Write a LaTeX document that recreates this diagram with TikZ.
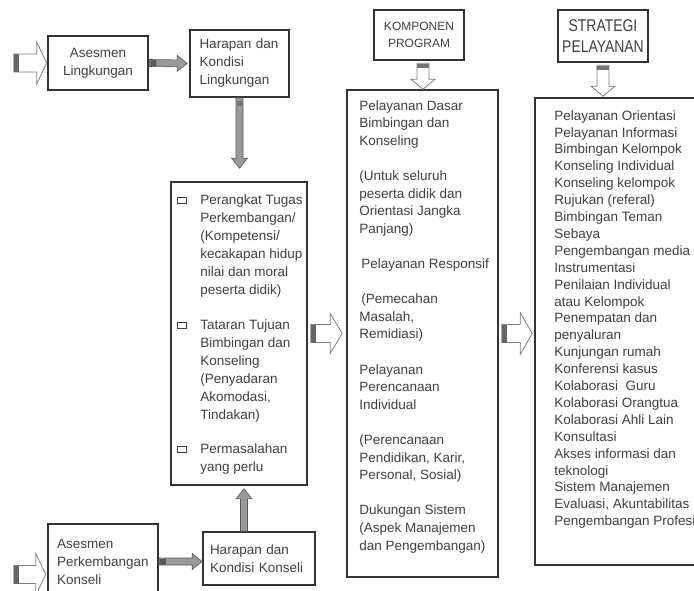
\documentclass[tikz,border=0pt]{standalone}
\usepackage{fontspec}
\setmainfont{Liberation Sans}
\newfontfamily\narrowsans[FakeStretch=0.82]{Liberation Sans}
\usetikzlibrary{calc,positioning}
\newcommand{\bul}{{\setlength{\fboxsep}{0pt}\setlength{\fboxrule}{0.6pt}\raisebox{1.5pt}{\fbox{\rule{0pt}{5pt}\rule{8pt}{0pt}}}}}
\newcommand{\ind}{\hspace*{23pt}}

\tikzset{
  blockarrow/.style n args={3}{to path={
      (\tikztotarget) coordinate (tip)
      ($(tip)!#3!(\tikztostart)$) coordinate (hb)
      ($(\tikztostart)!#1!90:(tip)$) -- ($(hb)!#1!90:(tip)$) -- ($(hb)!#2!90:(tip)$) -- (tip)
      -- ($(hb)!#2!-90:(tip)$) -- ($(hb)!#1!-90:(tip)$) -- ($(\tikztostart)!#1!-90:(tip)$) -- cycle}},
  tailbar/.style n args={2}{to path={
      ($(\tikztostart)!#2!(\tikztotarget)$) coordinate (tb)
      ($(tb)!#1!90:(\tikztotarget)$) -- ($(tb)!#1!-90:(\tikztotarget)$)}},
  openarrow/.style n args={3}{blockarrow={#1}{#2}{#3}, draw=black!50, fill=white, line width=0.8pt},
  grayarrow/.style={blockarrow={3.5pt}{8pt}{10pt}, draw=black!65, fill=black!40, line width=0.6pt},
  box/.style={draw=black!80, line width=1.6pt, fill=white, text=black!75},
  thickbox/.style={box, line width=2.6pt},
  txt/.style={align=left, inner sep=0pt, anchor=north west, text=black!75}
}

\begin{document}
\begin{tikzpicture}[x=1pt,y=-1pt,font=\fontsize{13.5}{18}\selectfont]
  \useasboundingbox (0,0) rectangle (694,590);
  \clip (0,0) rectangle (694,590);

  % left column
  \node[thickbox, minimum width=100, minimum height=54, align=center] (asesL) at (98,63) {Asesmen\\Lingkungan};
  \node[box, minimum width=99, minimum height=67, text width=80, inner xsep=9.5, align=left] (harL) at (239.5,63.5) {Harapan dan\\Kondisi\\Lingkungan};
  \node[box, minimum width=136, minimum height=303] (perangkat) at (239,333.5) {};
  \node[box, minimum width=112, minimum height=53, text width=98, inner xsep=7, align=left] (harK) at (259,558.5) {Harapan dan\\Kondisi Konseli};
  \node[thickbox, minimum width=110, minimum height=75, text width=92, inner xsep=9, align=left] (asesK) at (103,561.5) {Asesmen\\Perkembangan\\Konseli};

  \node[txt] (perangkatText) at ($(perangkat.north west)+(7,13)$) {%
    \makebox[23pt][l]{\bul}Perangkat Tugas\\
    \ind Perkembangan/\\
    \ind (Kompetensi/\\
    \ind kecakapan hidup\\
    \ind nilai dan moral\\
    \ind peserta didik)\\[17pt]
    \makebox[23pt][l]{\bul}Tataran Tujuan\\
    \ind Bimbingan dan\\
    \ind Konseling\\
    \ind (Penyadaran\\
    \ind Akomodasi,\\
    \ind Tindakan)\\[16pt]
    \makebox[23pt][l]{\bul}Permasalahan\\
    \ind yang perlu};

  % komponen program
  \node[thickbox, minimum width=90, minimum height=50, align=center, font=\fontsize{12}{17}\selectfont] (kompHead) at (419,35) {KOMPONEN\\PROGRAM};
  \node[box, minimum width=151, minimum height=487] (komponen) at (422.5,333.5) {};
  \node[txt, font=\fontsize{13.5}{17.6}\selectfont] (komponenText) at ($(komponen.north west)+(13,11)$) {%
    Pelayanan Dasar\\
    Bimbingan dan\\
    Konseling\\[17.6pt]
    (Untuk seluruh\\
    peserta didik dan\\
    Orientasi Jangka\\
    Panjang)\\[17.6pt]
    \hspace*{2pt}Pelayanan Responsif\\[17.6pt]
    \hspace*{2pt}(Pemecahan\\
    Masalah,\\
    Remidiasi)\\[17.6pt]
    Pelayanan\\
    Perencanaan\\
    Individual\\[17.6pt]
    (Perencanaan\\
    Pendidikan, Karir,\\
    Personal, Sosial)\\[17.6pt]
    Dukungan Sistem\\
    (Aspek Manajemen\\
    dan Pengembangan)};

  % strategi pelayanan
  \node[thickbox, minimum width=90, minimum height=52, align=center, font=\narrowsans\fontsize{17}{21}\selectfont] (stratHead) at (603,36) {STRATEGI\\PELAYANAN};
  \node[box, minimum width=185, minimum height=467] (strategi) at (627.5,331.5) {};
  \node[txt, font=\fontsize{13.5}{16.9}\selectfont] (strategiText) at ($(strategi.north west)+(20,13)$) {%
    Pelayanan Orientasi\\
    Pelayanan Informasi\\
    Bimbingan Kelompok\\
    Konseling Individual\\
    Konseling kelompok\\
    Rujukan (referal)\\
    Bimbingan Teman\\
    Sebaya\\
    Pengembangan media\\
    Instrumentasi\\
    Penilaian Individual\\
    atau Kelompok\\
    Penempatan dan\\
    penyaluran\\
    Kunjungan rumah\\
    Konferensi kasus\\
    Kolaborasi\ \ Guru\\
    Kolaborasi Orangtua\\
    Kolaborasi Ahli Lain\\
    Konsultasi\\
    Akses informasi dan\\
    teknologi\\
    Sistem Manajemen\\
    Evaluasi, Akuntabilitas\\
    Pengembangan Profesi};

  % arrow ends
  \coordinate (inL) at ($(asesL.west)+(-33,0)$);
  \coordinate (inKtip) at ($(asesK.west)+(-1,13)$);
  \coordinate (inK) at ($(inKtip)+(-32,0)$);
  \coordinate (harLtip) at ($(harL.west)+(-2,0)$);
  \coordinate (perTop) at ($(harL.south |- perangkat.north)+(0,-13)$);
  \coordinate (harKtip) at (asesK.east -| harK.west);
  \coordinate (harKout) at ($(harK.north)+(-15,0)$);
  \coordinate (perBot) at ($(harKout |- perangkat.south)+(0,3)$);
  \coordinate (perOut) at ($(perangkat.east)+(3,0)$);
  \coordinate (kompIn) at ($(komponen.west)+(-4,0)$);
  \coordinate (kompOut) at ($(komponen.east)+(3,0)$);
  \coordinate (stratIn) at ($(kompOut -| strategi.west)+(-2,0)$);
  \coordinate (kompHeadOut) at ($(kompHead.south)+(4,2)$);
  \coordinate (kompTop) at (kompHeadOut |- komponen.north);
  \coordinate (stratHeadOut) at ($(stratHead.south)+(0,2)$);
  \coordinate (stratTop) at ($(stratHeadOut |- strategi.north)+(0,-1)$);

  % open arrows
  \draw[openarrow={9pt}{21pt}{10pt}] (inL) to (asesL.west);
  \draw[tailbar={9pt}{2.5pt}, line width=5pt, black!60] (inL) to (asesL.west);
  \draw[openarrow={9pt}{21pt}{10pt}] (inK) to (inKtip);
  \draw[tailbar={9pt}{2.5pt}, line width=5pt, black!60] (inK) to (inKtip);
  \draw[openarrow={9pt}{20pt}{12pt}] (perOut) to (kompIn);
  \draw[tailbar={9pt}{2.5pt}, line width=5pt, black!60] (perOut) to (kompIn);
  \draw[openarrow={9pt}{21pt}{12pt}] (kompOut) to (stratIn);
  \draw[tailbar={9pt}{2.5pt}, line width=5pt, black!60] (kompOut) to (stratIn);
  \draw[openarrow={6pt}{12pt}{10pt}] (kompHeadOut) to (kompTop);
  \draw[tailbar={6pt}{3pt}, line width=4pt, black!55] (kompHeadOut) to (kompTop);
  \draw[openarrow={6pt}{12pt}{10pt}] (stratHeadOut) to (stratTop);
  \draw[tailbar={6pt}{3pt}, line width=4pt, black!55] (stratHeadOut) to (stratTop);

  % gray arrows
  \draw[grayarrow] (asesL.east) to (harLtip);
  \draw[tailbar={3pt}{4pt}, line width=6pt, black!65] (asesL.east) to (harLtip);
  \draw[grayarrow] (harL.south) to (perTop);
  \draw[tailbar={2.5pt}{6pt}, line width=5pt, black!55] (harL.south) to (perTop);
  \draw[grayarrow] (asesK.east) to (harKtip);
  \draw[tailbar={3pt}{4pt}, line width=6pt, black!65] (asesK.east) to (harKtip);
  \draw[grayarrow] (harKout) to (perBot);
\end{tikzpicture}
\end{document}
